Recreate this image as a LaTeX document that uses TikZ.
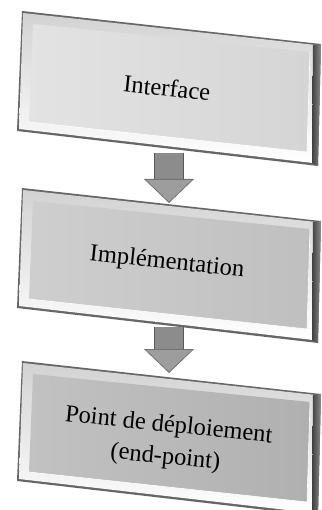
\documentclass[tikz,border=0pt]{standalone}
\usepackage{fontspec}
\setmainfont{Liberation Serif}
\usetikzlibrary{arrows.meta,calc}

\definecolor{arrowfill}{HTML}{8C8C8C}

\begin{document}
\begin{tikzpicture}[x=1pt,y=-1pt,
	boxtext/.style={rotate=-6, align=center, font=\fontsize{24.5}{32}\selectfont},
	flowarrow/.style={
		line width=28pt, draw=arrowfill,
		-{Triangle[length=24pt,width=50pt,line width=0.8pt,fill=arrowfill!85!white,color=black!55]},
		preaction={draw=black!65, line width=30pt, shorten >=22pt, -}
	},
]

	\useasboundingbox (0,0) rectangle (321,510);
	\clip (0,0) rectangle (321,510);

	% the three bevelled boxes
	\foreach \yo/\fl/\fr in {0/gray!22/gray!33, 177/gray!38/gray!50, 350/gray!48/gray!62}{
		\begin{scope}[shift={(0,\yo)}]
			\fill[black!60] (22,11) -- (321,44) -- (318,166) -- (17,131) -- cycle;
			\shade[top color=gray!35, bottom color=white] (23,13) -- (316,45) -- (313,163) -- (19,129) -- cycle;
			\shade[left color=\fl, right color=\fr] (33,24) -- (310,52) -- (307,152) -- (29,122) -- cycle;
			\draw[white, line width=0.6pt] (29,122) -- (307,152) -- (310,52);
			\shade[left color=black!75, right color=black!45] (313,45) -- (321,44) -- (318,166) -- (312,163) -- cycle;
		\end{scope}
	}

	\node[boxtext] (iface) at (167,88) {Interface};
	\node[boxtext] (impl) at (167,263) {Implémentation};
	\node[boxtext] (endpoint) at (167,442) {Point de déploiement\\(end-point)};

	\coordinate (iface-bot) at (169,153);
	\coordinate (impl-top) at (169,203);
	\coordinate (impl-bot) at (169,327);
	\coordinate (endpoint-top) at (169,373);

	\draw[flowarrow] (iface-bot) -- (impl-top);
	\draw[flowarrow] (impl-bot) -- (endpoint-top);

\end{tikzpicture}
\end{document}
